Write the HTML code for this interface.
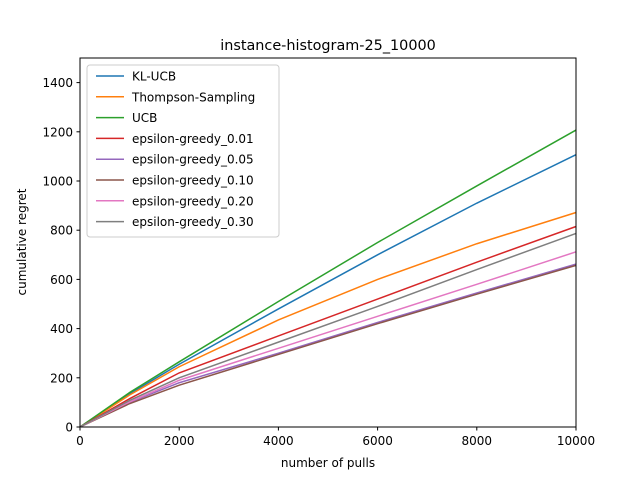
<!DOCTYPE html>
<html><head><meta charset="utf-8"><style>
body{margin:0;background:#fff}
svg text{font-family:"DejaVu Sans","Liberation Sans",sans-serif;}
</style></head><body>
<svg id="chart" width="640" height="480" xmlns="http://www.w3.org/2000/svg">
<rect width="640" height="480" fill="#fff"/>
<text x="328" y="50" font-size="14.4" text-anchor="middle">instance-histogram-25_10000</text>
<g id="plot"></g>
<rect x="80" y="58" width="496" height="369" fill="none" stroke="#000" stroke-width="1"/>
<text x="328" y="467" font-size="12" text-anchor="middle">number of pulls</text>
<text x="26" y="242" font-size="12" text-anchor="middle" transform="rotate(-90 26 242)">cumulative regret</text>
<g id="legend"></g>
</svg>
<script>
const xs=[0,1000,2000,4000,6000,8000,10000];
const names=["KL-UCB","Thompson-Sampling","UCB","epsilon-greedy_0.01","epsilon-greedy_0.05","epsilon-greedy_0.10","epsilon-greedy_0.20","epsilon-greedy_0.30"];
const colors=["#1f77b4","#ff7f0e","#2ca02c","#d62728","#9467bd","#8c564b","#e377c2","#7f7f7f"];
const klucb=[0,135,255,480,700,910,1107];
const ts=[0,130,245,435,600,745,872];
const ucb=[0,140,265,510,750,980,1207];
const eg001=[0,115,220,370,520,670,815];
const eg005=[0,100,180,300,425,545,662];
const eg010=[0,95,170,295,420,540,657];
const eg020=[0,102,190,320,450,580,712];
const eg030=[0,108,200,345,490,640,787];
const series=[klucb,ts,ucb,eg001,eg005,eg010,eg020,eg030];
const xTicks=[0,2000,4000,6000,8000,10000];
const yTicks=[0,200,400,600,800,1000,1200,1400];
const NS="http://www.w3.org/2000/svg";
const X=v=>80+v/10000*496;
const Y=v=>427-v/1500*369;
const plot=document.getElementById('plot');
function mk(t,a,p){const e=document.createElementNS(NS,t);for(const k in a)e.setAttribute(k,a[k]);p.appendChild(e);return e;}
xTicks.forEach(t=>{
 const l=mk('line',{x1:X(t),x2:X(t),y1:427,y2:430.5,stroke:'#000'},plot);
 
 
 const s=mk('text',{x:X(t),y:445,'font-size':12,'text-anchor':'middle'},plot);s.textContent=t;
 
 
});
yTicks.forEach(t=>{
 const l=mk('line',{x1:76.5,x2:80,y1:Y(t),y2:Y(t),stroke:'#000'},plot);
 
 
 const s=mk('text',{x:73,y:Y(t)+4.5,'font-size':12,'text-anchor':'end'},plot);s.textContent=t;
 
 
});
series.forEach((d,i)=>{
 const p=mk('polyline',{points:d.map((v,j)=>X(xs[j])+','+Y(v)).join(' '),fill:'none',stroke:colors[i],'stroke-width':1.5},plot);
 
 
});
const lg=document.getElementById('legend');
const box=mk('rect',{x:87,y:65,width:192,height:172,rx:3,fill:'#fff','fill-opacity':0.8,stroke:'#ccc'},lg);


names.forEach((n,i)=>{
 const y=76+i*20.8;
 const l=mk('line',{x1:96,x2:124,y1:y,y2:y,stroke:colors[i],'stroke-width':1.5},lg);
 
 
 const t=mk('text',{x:132,y:y+4.5,'font-size':12},lg);t.textContent=n;
 
 
});
</script>
</body></html>
